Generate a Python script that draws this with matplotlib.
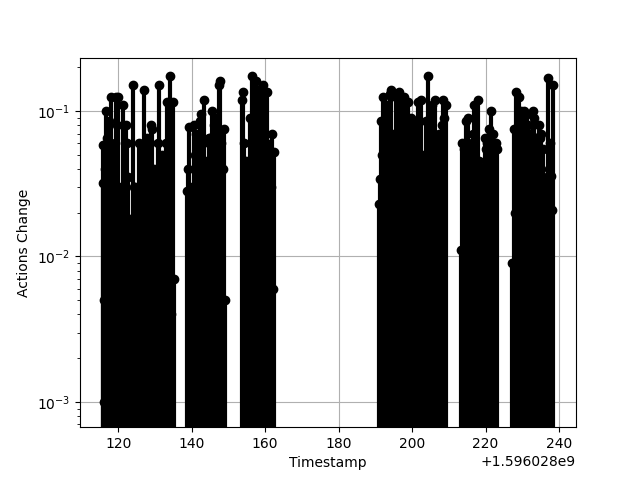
import numpy as np
import matplotlib
matplotlib.use("Agg")
import matplotlib.pyplot as plt

offset = 1.596028e9
t1 = [115.8,115.9,116.1,116.2,116.4,116.7,117.0,117.3,117.6,118.0,118.3,118.7,119.0,119.4,119.7,120.0,120.3,120.7,121.0,121.4,121.8,122.2,122.5,122.8,123.1,123.5,123.9,124.2,124.6,124.9,125.2,125.6,126.0,126.3,126.7,127.0,127.3,127.7,128.0,128.3,128.6,129.0,129.3,129.7,130.0,130.4,130.8,131.1,131.5,131.9,132.3,132.7,133.0,133.4,133.8,134.1,134.4,134.8,135.1]
v1 = [0.032,0.058,0.005,0.001,0.04,0.1,0.065,0.03,0.085,0.125,0.03,0.02,0.06,0.125,0.08,0.125,0.03,0.025,0.02,0.11,0.03,0.08,0.06,0.035,0.018,0.015,0.15,0.03,0.03,0.02,0.004,0.06,0.026,0.004,0.055,0.14,0.02,0.065,0.05,0.004,0.06,0.08,0.075,0.04,0.003,0.025,0.06,0.15,0.03,0.05,0.002,0.03,0.06,0.115,0.03,0.175,0.004,0.115,0.007]
t2 = [138.8,139.1,139.4,139.8,140.1,140.5,140.8,141.2,141.6,141.9,142.3,142.6,143.0,143.3,143.7,144.0,144.4,144.8,145.1,145.5,145.8,146.2,146.6,147.0,147.3,147.6,148.0,148.4,148.8,149.2]
v2 = [0.028,0.04,0.078,0.02,0.03,0.08,0.05,0.07,0.015,0.005,0.085,0.095,0.06,0.12,0.045,0.03,0.02,0.065,0.065,0.1,0.005,0.08,0.09,0.015,0.15,0.16,0.06,0.04,0.075,0.005]
t3 = [153.6,154.0,154.3,154.7,155.0,155.4,155.8,156.1,156.5,156.9,157.3,157.6,158.0,158.3,158.7,159.0,159.4,159.7,160.1,160.4,160.8,161.1,161.5,161.8,162.1,162.4]
v3 = [0.12,0.135,0.06,0.045,0.03,0.01,0.09,0.03,0.175,0.05,0.02,0.16,0.14,0.055,0.13,0.045,0.15,0.04,0.06,0.135,0.02,0.055,0.03,0.07,0.006,0.052]
t4 = [190.9,191.2,191.5,191.8,192.1,192.5,192.8,193.2,193.5,193.9,194.2,194.6,195.0,195.3,195.7,196.0,196.4,196.8,197.1,197.5,197.9,198.2,198.6,199.0,199.3,199.7,200.1,200.5,200.9,201.2,201.6,202.0,202.3,202.7,203.1,203.4,203.8,204.2,204.6,205.0,205.4,205.7,206.1,206.5,206.9,207.3,207.7,208.0,208.4,208.8,209.1]
v4 = [0.023,0.034,0.085,0.05,0.125,0.035,0.11,0.02,0.005,0.13,0.14,0.035,0.07,0.003,0.125,0.06,0.135,0.02,0.11,0.04,0.125,0.06,0.025,0.115,0.03,0.09,0.03,0.045,0.085,0.005,0.115,0.04,0.12,0.05,0.01,0.03,0.085,0.175,0.06,0.04,0.11,0.045,0.12,0.03,0.06,0.07,0.015,0.08,0.12,0.09,0.11]
t5 = [213.3,213.6,214.0,214.3,214.7,215.1,215.4,215.8,216.2,216.5,216.9,217.2,217.6,218.0,218.3,218.7,219.0,219.4,219.8,220.1,220.5,220.9,221.2,221.6,222.0,222.3,222.7,223.0]
v5 = [0.011,0.06,0.055,0.04,0.085,0.09,0.02,0.05,0.06,0.07,0.11,0.01,0.035,0.12,0.045,0.04,0.012,0.03,0.065,0.055,0.06,0.075,0.04,0.1,0.07,0.055,0.06,0.055]
t6 = [227.3,227.6,228.0,228.3,228.7,229.0,229.4,229.7,230.1,230.5,230.8,231.2,231.5,231.9,232.3,232.6,233.0,233.3,233.7,234.1,234.4,234.8,235.2,235.5,235.9,236.2,236.6,236.9,237.3,237.6,237.9,238.2,238.4]
v6 = [0.009,0.075,0.02,0.135,0.03,0.125,0.07,0.1,0.04,0.1,0.07,0.095,0.08,0.04,0.07,0.005,0.1,0.09,0.004,0.065,0.08,0.065,0.07,0.055,0.004,0.027,0.035,0.17,0.04,0.06,0.036,0.021,0.15]

t = np.array(t1 + t2 + t3 + t4 + t5 + t6) + offset
v = np.array(v1 + v2 + v3 + v4 + v5 + v6)

fig, ax = plt.subplots(figsize=(6.4, 4.8), dpi=100)
ml, sl, bl = ax.stem(t, v, linefmt='k-', markerfmt='ko', basefmt=' ')
sl.set_linewidth(3)
ax.set_yscale('log')
ax.set_ylim(6.7e-4, 0.233)
ax.set_xlim(offset + 109.6, offset + 244.6)
ax.grid(True)
ax.set_xlabel('Timestamp')
ax.set_ylabel('Actions Change')
fig.savefig('out.png')
